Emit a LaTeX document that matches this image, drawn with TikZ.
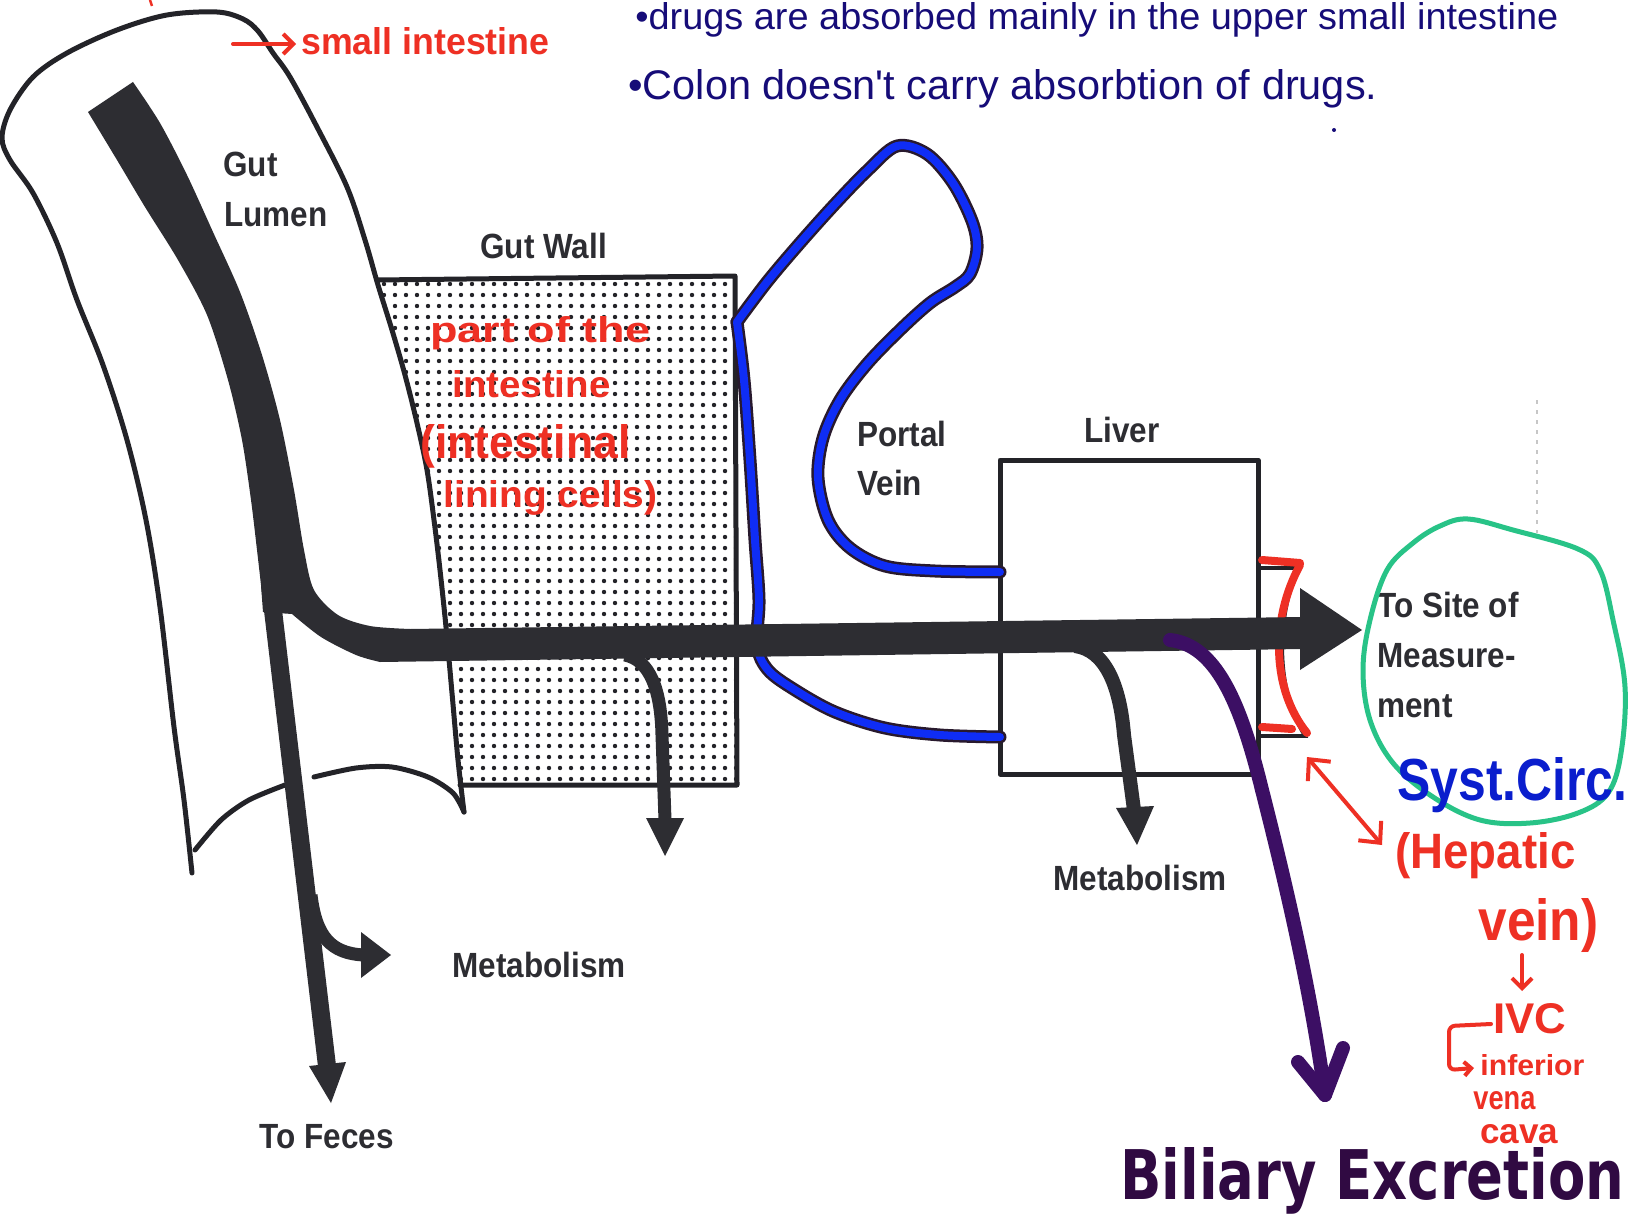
\documentclass[tikz,border=0pt]{standalone}
\usepackage{fontspec}
\usepackage{graphicx}
\usetikzlibrary{arrows.meta}
\setmainfont{Liberation Sans}
\newfontfamily\labelfont[FakeStretch=0.9]{Liberation Sans}
\newfontfamily\handfont{Liberation Sans}
\newfontfamily\markerfont{DejaVu Sans}
\newcommand\handtext[3]{\resizebox{#1}{#2}{#3}}
\definecolor{ink}{RGB}{35,35,40}
\definecolor{labelgray}{RGB}{45,45,50}
\definecolor{bandc}{RGB}{45,45,50}
\definecolor{redpen}{RGB}{238,48,36}
\definecolor{navy}{RGB}{22,12,120}
\definecolor{veinblue}{RGB}{15,45,245}
\definecolor{veinout}{RGB}{40,25,45}
\definecolor{syst}{RGB}{10,30,205}
\definecolor{greenpen}{RGB}{40,195,135}
\definecolor{purplepen}{RGB}{60,15,100}
\definecolor{bilpurple}{RGB}{48,10,66}
\begin{document}
\begin{tikzpicture}[x=0.5pt,y=-0.5pt,
  outline/.style={draw=ink,line width=2.5pt,line join=round,line cap=round},
  lbl/.style={inner sep=0pt,anchor=base west,text=labelgray,font=\labelfont\bfseries\fontsize{17.5pt}{21pt}\selectfont},
  hand/.style={inner sep=0pt,anchor=base west,font=\handfont},
  redhand/.style={inner sep=0pt,anchor=base west,text=redpen,font=\handfont\bfseries},
  redline/.style={draw=redpen,line width=2pt,line cap=round,line join=round},
  veinback/.style={draw=veinout,line width=6.5pt,line cap=round,line join=round},
  veinfront/.style={draw=veinblue,line width=4pt,line cap=round,line join=round}]
\useasboundingbox (0,0) rectangle (1632,1214);
\fill[white] (0,0) rectangle (1632,1214);

% ---------- dotted gut wall ----------
\begin{scope}
\clip plot[smooth,tension=0.55] coordinates {(378,285) (392,330) (405,375) (417,423) (427,470) (434,520) (440,570) (446,627) (452,693) (458,760) (460,785)} -- (737,785) -- (735,276) -- (378,280) -- cycle;
\foreach \i in {0,...,33}{\foreach \j in {0,...,46}{\fill[ink] (384+11*\i,284+11*\j) circle[radius=1.1pt];}}
\end{scope}
\draw[outline] (377,280) -- (735,276) -- (737,785) -- (460,785);

% ---------- intestine tube ----------
\draw[outline] plot[smooth,tension=0.55] coordinates {(192,873) (184,800) (174,727) (160,607) (146,520) (127,440) (103,365) (77,300) (57,243) (33,193) (10,160) (2,138) (10,110) (33,77) (67,53) (117,30) (167,15) (217,12) (243,19) (258,31) (273,53) (290,77) (317,127) (347,187) (365,240) (378,285) (392,330) (405,375) (417,423) (427,470) (434,520) (440,570) (446,627) (452,693) (458,760) (464,812)};
\draw[outline] plot[smooth] coordinates {(195,850) (221,820) (249,800) (285,785)};
\draw[outline] plot[smooth] coordinates {(314,777) (356,768) (392,767) (428,777) (453,793) (464,812)};

% ---------- liver ----------
\draw[outline] (1000,460) rectangle (1258,774);
\coordinate (hvTop) at (1258,568);
\coordinate (hvBot) at (1258,736);
\draw[ink,line width=1.8pt] (hvTop) -- (1298,568) .. controls (1276,620) and (1276,690) .. (1305,736) -- (hvBot);
\draw[redpen,line width=4pt,line cap=round] (1262,560) -- (1300,563);
\draw[redpen,line width=4pt,line cap=round] (1262,727) -- (1292,729);
\draw[redpen,line width=4pt,line cap=round] (1300,565) .. controls (1270,620) and (1272,690) .. (1307,733);

% ---------- portal vein ----------
\foreach \s in {veinback,veinfront}{
\draw[\s] plot[smooth,tension=0.55] coordinates {(737,322) (767,282) (800,243) (835,204) (868,170) (897,146) (927,154) (953,183) (972,221) (977,248) (970,274) (955,287) (930,303) (900,330) (867,364) (840,400) (823,438) (818,478) (828,520) (850,548) (885,566) (935,571) (1000,572)};
\draw[\s] plot[smooth,tension=0.55] coordinates {(737,322) (744,380) (750,460) (755,540) (759,600) (757,645) (768,670) (795,690) (835,712) (885,728) (940,735) (1000,737)};
}

% ---------- main drug path ----------
\fill[bandc] (88,112) -- (133,82) -- plot[smooth,tension=0.5] coordinates {(133,82) (160,123) (187,175) (213,232) (240,292) (262,355) (280,420) (294,490) (304,550) (314,590) (338,615) (370,626) (410,629)} -- (1303,617) -- (1303,649) -- (380,662) -- plot[smooth,tension=0.5] coordinates {(380,662) (356,655) (321,637) (292,614)} -- (263,612) -- plot[smooth,tension=0.5] coordinates {(261,585) (257,550) (251,500) (242,440) (228,380) (207,315) (178,260) (145,207) (117,160) (88,112)} -- cycle;
\fill[bandc] (1300,588) -- (1362,630) -- (1300,670) -- cycle;

% to feces
\coordinate (fecA) at (270,585);
\coordinate (fecB) at (327,1066);
\draw[bandc,line width=9pt] (fecA) -- (fecB);
\fill[bandc] (309,1066) -- (346,1062) -- (331,1103) -- cycle;
% lumen metabolism
\coordinate (m1A) at (311,895);
\coordinate (m1B) at (363,955);
\draw[bandc,line width=6.5pt] (m1A) .. controls (316,938) and (332,953) .. (m1B);
\fill[bandc] (361,932) -- (391,955) -- (361,978) -- cycle;
% gut wall metabolism
\coordinate (m2A) at (625,655);
\coordinate (m2B) at (665,820);
\draw[bandc,line width=6.5pt] (m2A) .. controls (650,660) and (661,690) .. (662,735) -- (m2B);
\fill[bandc] (646,818) -- (684,818) -- (665,856) -- cycle;
% liver metabolism
\coordinate (m3A) at (1075,646);
\coordinate (m3B) at (1134,810);
\draw[bandc,line width=7pt] (m3A) .. controls (1105,650) and (1120,685) .. (1124,735) -- (m3B);
\fill[bandc] (1116,808) -- (1154,806) -- (1137,845) -- cycle;

% biliary excretion arrow
\coordinate (bilA) at (1170,640);
\coordinate (bilB) at (1325,1095);
\draw[purplepen,line width=7pt,line cap=round] (bilA) .. controls (1215,645) and (1240,700) .. (1262,790) .. controls (1290,900) and (1312,1000) .. (bilB);
\draw[purplepen,line width=7pt,line cap=round,line join=round] (1298,1062) -- (bilB) -- (1343,1048);

% ---------- printed labels ----------
\node[lbl] (gut) at (223,177) {Gut};
\node[lbl] (lumen) at (224,227) {Lumen};
\node[lbl] (gutwall) at (480,258) {Gut Wall};
\node[lbl] (portal) at (857,446) {Portal};
\node[lbl] (vein) at (857,495) {Vein};
\node[lbl] (liver) at (1084,442) {Liver};
\node[lbl] (site1) at (1377,617) {To Site of};
\node[lbl] (site2) at (1377,667) {Measure-};
\node[lbl] (site3) at (1377,717) {ment};
\node[lbl] (metab1) at (452,977) {Metabolism};
\node[lbl] (metab2) at (1053,890) {Metabolism};
\node[lbl] (feces) at (259,1148) {To Feces};

% ---------- systemic circulation circle ----------
\draw[greenpen,line width=2.5pt] plot[smooth cycle,tension=0.6] coordinates {(1468,519) (1513,530) (1578,549) (1600,570) (1613,620) (1625,687) (1621,753) (1608,793) (1578,813) (1530,823) (1480,820) (1433,797) (1393,763) (1370,720) (1363,670) (1370,620) (1387,570) (1413,543) (1440,526)};
\draw[gray!45,line width=0.6pt,dash pattern=on 2pt off 3pt] (1537,400) -- (1537,533);
\node[hand,text=syst,font=\handfont\bfseries] (syst) at (1397,800) {\handtext{115pt}{21.5pt}{Syst.Circ.}};

% ---------- blue notes ----------
\node[hand,text=navy] (note1) at (635,30) {\handtext{461.5pt}{13.5pt}{•drugs are absorbed mainly in the upper small intestine}};
\node[hand,text=navy] (note2) at (628,100) {\handtext{374.5pt}{15pt}{•Colon doesn't carry absorbtion of drugs.}};
\fill[navy] (1334,130) circle[radius=1pt];

% ---------- red notes ----------
\draw[redpen,line width=1.2pt] (150,0) -- (152,6);
\coordinate (siArrowA) at (233,44);
\coordinate (siArrowB) at (296,44);
\draw[redline,-{Straight Barb[length=5pt,width=10pt]}] (siArrowA) -- (siArrowB);
\node[redhand] (si) at (301,55) {\handtext{124pt}{13.5pt}{small intestine}};
\node[redhand] (pot) at (430,343) {\handtext{110pt}{13pt}{part of the}};
\node[redhand] (intest) at (452,397) {\handtext{79pt}{13.5pt}{intestine}};
\node[redhand] (intestinal) at (420,458) {\handtext{105pt}{17pt}{(intestinal}};
\node[redhand] (lining) at (443,507) {\handtext{107pt}{13.5pt}{lining cells)}};

\coordinate (hvA) at (1307,757);
\coordinate (hvB) at (1382,845);
\draw[redline,{Straight Barb[length=8pt,width=15pt]}-{Straight Barb[length=8pt,width=15pt]}] (hvA) -- (hvB);
\node[redhand] (hepatic) at (1395,868) {\handtext{90pt}{18pt}{(Hepatic}};
\node[redhand] (veinr) at (1478,940) {\handtext{60pt}{21pt}{vein)}};
\coordinate (ivcA) at (1522,955);
\coordinate (ivcB) at (1522,991);
\draw[redline,-{Straight Barb[length=5pt,width=10pt]}] (ivcA) -- (ivcB);
\node[redhand] (ivc) at (1493,1033) {\handtext{36.5pt}{15pt}{IVC}};
\coordinate (infA) at (1491,1024);
\coordinate (infB) at (1474,1068);
\draw[redline,rounded corners=3pt,-{Straight Barb[length=3.5pt,width=7pt]}] (infA) -- (1449,1026) -- (1449,1070) -- (infB);
\node[redhand,align=left,font=\handfont\bfseries\fontsize{9pt}{17pt}\selectfont] (ivcname) at (1473,1143) {\hspace{3.5pt}\handtext{52pt}{10.5pt}{inferior}\\\handtext{31pt}{9pt}{vena}\\\hspace{3.5pt}\handtext{39pt}{9.5pt}{cava}};

% ---------- biliary excretion ----------
\node[inner sep=0pt,anchor=base west,text=bilpurple,font=\markerfont\bfseries] (biliary) at (1120,1199) {\handtext{252pt}{26pt}{Biliary Excretion}};
\end{tikzpicture}
\end{document}
